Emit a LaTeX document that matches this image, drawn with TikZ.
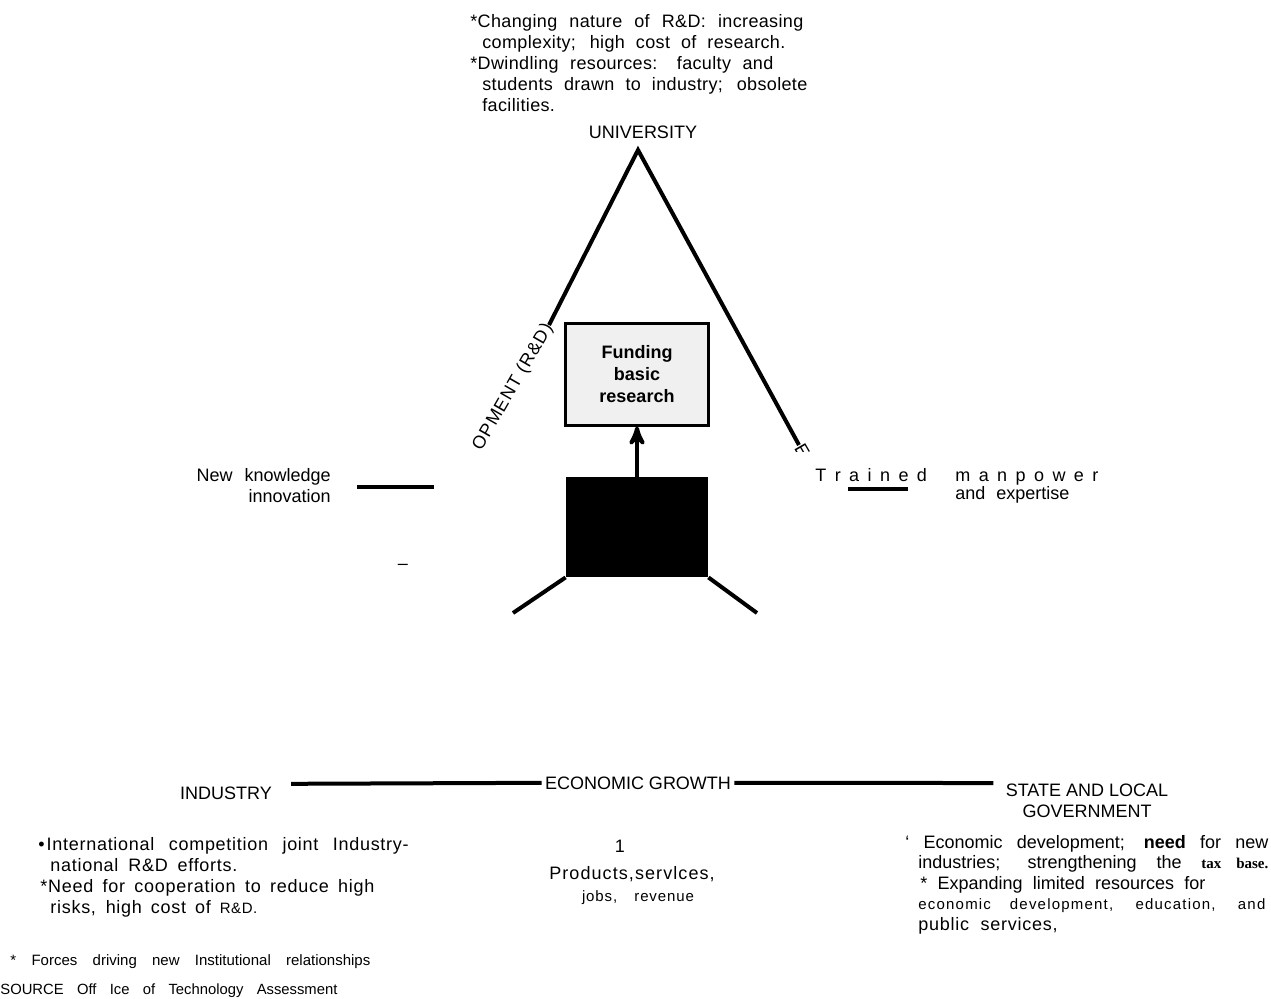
\documentclass[tikz,border=0pt]{standalone}
\usepackage{fontspec}
\setmainfont{Liberation Sans}
\newfontfamily\taxfont{Liberation Serif}
\usepackage{tikz}
\usetikzlibrary{arrows}

% a line whose spaces stretch to the given width
\newcommand{\jline}[2]{\makebox[#1][s]{#2}}

\begin{document}
\begin{tikzpicture}
	[x=0.5pt,y=-0.5pt,>=stealth',
		txt/.style={inner sep=0pt,font=\fontsize{9}{10.5}\selectfont},
		thick line/.style={line width=2pt},
		fund box/.style={draw,line width=1.5pt,fill=gray!12,minimum width=71.5pt,minimum height=51pt,align=center,font=\fontsize{9}{11}\selectfont\bfseries},
		black box/.style={fill=black,minimum width=71pt,minimum height=50pt}]

	\useasboundingbox (0,0) rectangle (1271,998);

	% university corner (multi-line nodes sit on their last line)
	\node[txt,anchor=base west,align=left,font=\fontsize{9}{10.5}\selectfont\addfontfeature{LetterSpace=2}] (unitext) at (470,111.5) {%
		\jline{166.5pt}{*Changing nature of R\&D: increasing}\\
		\hspace*{6pt}\jline{151.5pt}{complexity; high cost of research.}\\
		\jline{151.5pt}{*Dwindling resources: faculty and}\\
		\hspace*{6pt}\jline{162.5pt}{students drawn to industry; obsolete}\\
		\hspace*{6pt}facilities.};
	\node[txt,anchor=base] (univ) at (643,138) {UNIVERSITY};
	\coordinate (apex) at (638,150);

	\node[txt,anchor=east,rotate=60,font=\fontsize{9}{10.5}\selectfont\addfontfeature{LetterSpace=6}] (rd) at (549,325) {OPMENT (R\&D)};
	\begin{scope}
		\clip (788,436) rectangle (815,451);
		\node[txt,anchor=west,rotate=-60] (edu) at (799,445) {E};
	\end{scope}
	\draw[thick line] (rd.east) -- (apex) -- (edu.west);

	% funding and the black box
	\node[fund box] (fund) at (637,374) {Funding\\basic\\research};
	\node[black box] (black) at (637,527) {};
	\coordinate (legl) at (513,613);
	\coordinate (legr) at (757,613);

	\path[thick line]
	(black) edge[->] (fund)
	(black.south west) edge (legl)
	(black.south east) edge (legr)
	;

	% side labels
	\node[txt,anchor=east,align=right] (newk) at (331,486) {New\hspace{3.5pt} knowledge\\innovation};
	\draw[thick line] (newk.east) ++(26,1) -- ++(77,0);
	\node[txt] (dash) at (403,567) {\textendash};

	\node[txt,anchor=base west] (trained) at (815,481) {\jline{141.5pt}{T r a i n e d\hspace{10pt} m a n p o w e r}};
	\node[txt,anchor=base west] (expert) at (955,499) {and\hspace{3pt} expertise};
	\draw[thick line] (trained.base west) ++(33,8) -- ++(60,0);

	% bottom row
	\node[txt,anchor=base] (ind) at (226,799) {INDUSTRY};
	\node[txt,anchor=base,inner sep=1.5pt] (growth) at (638,789) {ECONOMIC GROWTH};
	\node[txt,anchor=base,align=center] (state) at (1087,817) {STATE AND LOCAL\\GOVERNMENT};
	\draw[thick line] (ind.east) ++(19,-9) -- (growth.west);
	\draw[thick line] (growth.east) -- ([xshift=-6pt]state.north west);

	\node[txt,anchor=base] (one) at (620,852) {1};
	\node[txt,anchor=base,font=\fontsize{9}{11}\selectfont\addfontfeature{LetterSpace=6}] (prod) at (632,879) {Products,servlces,};
	\node[txt,anchor=base,font=\fontsize{7.5}{9}\selectfont\addfontfeature{LetterSpace=6}] (jobs) at (638,901) {jobs,\hspace{6pt} revenue};

	\node[txt,anchor=base west,align=left,font=\fontsize{9}{10.4}\selectfont\addfontfeature{LetterSpace=4}] (indtext) at (38,913) {%
		\textbullet\hspace{1pt}\jline{181pt}{International competition joint Industry-}\\
		\hspace*{6pt}\jline{93.5pt}{national R\&D efforts.}\\
		\hspace*{1pt}\jline{167pt}{*Need for cooperation to reduce high}\\
		\hspace*{6pt}\jline{103.5pt}{risks, high cost of {\fontsize{7.5}{9}\selectfont R\&D.}}};

	\node[txt,anchor=base west,align=left,font=\fontsize{9}{10.2}\selectfont] (statetext) at (905,930) {%
		\jline{181.5pt}{\textquoteleft\ Economic development; \textbf{need} for new}\\
		\hspace*{6.5pt}\jline{175pt}{industries; strengthening the {\taxfont\bfseries\fontsize{7.5}{9}\selectfont tax base.}}\\
		\hspace*{7.5pt}\jline{142.5pt}{* Expanding limited resources for}\\
		\hspace*{6.5pt}{\fontsize{7.5}{9}\selectfont\addfontfeature{LetterSpace=8}\jline{173.5pt}{economic development, education, and}}\\
		\hspace*{6.5pt}{\addfontfeature{LetterSpace=4}public\hspace{3pt} services,}};

	% notes
	\node[txt,anchor=base west,font=\fontsize{7.5}{9}\selectfont] (forces) at (10,965) {\jline{180pt}{* Forces driving new Institutional relationships}};
	\node[txt,anchor=base west,font=\fontsize{7.4}{9}\selectfont] (source) at (0,994) {\jline{168.5pt}{SOURCE Off Ice of Technology Assessment}};

\end{tikzpicture}
\end{document}
